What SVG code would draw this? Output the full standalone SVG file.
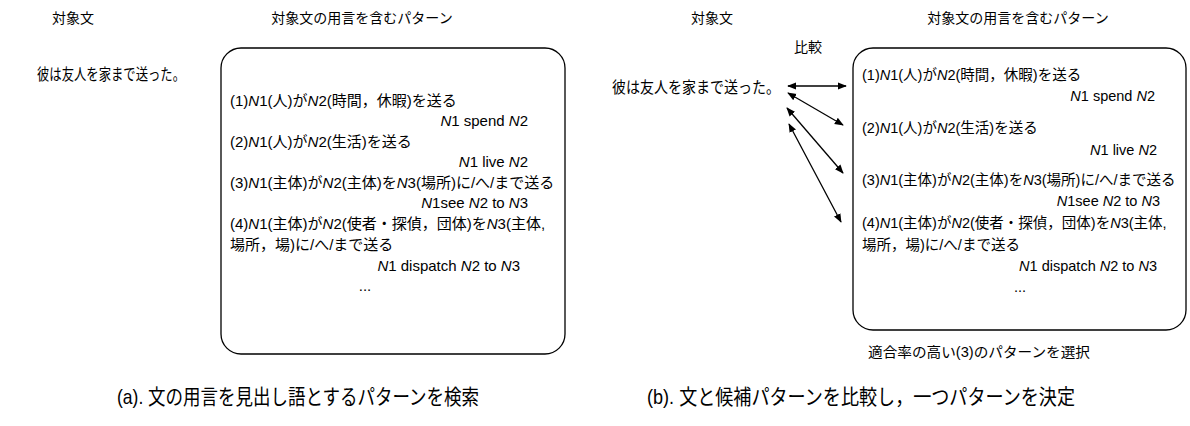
<svg xmlns="http://www.w3.org/2000/svg" width="1190" height="426" viewBox="0 0 1190 426">
<style>
text{font-family:"Liberation Sans","Noto Sans CJK JP",sans-serif;fill:#000}
.t{font-size:14px}
.s{font-size:15.5px}
.b{font-size:15px}
.r{font-size:14.5px}
.cap{font-size:21px}
.i{font-style:italic}
.box{fill:#fff;stroke:#000;stroke-width:1.3}
.ar{stroke:#000;stroke-width:1.3;fill:none;marker-start:url(#h);marker-end:url(#h)}
</style>
<defs>
<marker id="h" viewBox="0 0 10 10" refX="9" refY="5" markerWidth="9" markerHeight="9" orient="auto-start-reverse" markerUnits="userSpaceOnUse"><path d="M0,1 L10,5 L0,9 z" fill="#000"/></marker>
</defs>
<rect width="1190" height="426" fill="#fff"/>
<g id="panel-a">
<g id="a-title1"><text class="t" x="73" y="23" text-anchor="middle">対象文</text></g>
<g id="a-title2"><text class="t" x="362" y="23" text-anchor="middle">対象文の用言を含むパターン</text></g>
<g id="a-sentence"><text class="s" x="37" y="80" textLength="148" lengthAdjust="spacingAndGlyphs">彼は友人を家まで送った。</text></g>
<g id="a-box">
<rect class="box" x="221" y="48" width="344" height="306" rx="20"/>
<text class="b" x="230" y="106">(1)<tspan class="i">N</tspan>1(人)が<tspan class="i">N</tspan>2(時間，休暇)を送る</text>
<text class="b" x="528" y="126" text-anchor="end"><tspan class="i">N</tspan>1 spend <tspan class="i">N</tspan>2</text>
<text class="b" x="230" y="147">(2)<tspan class="i">N</tspan>1(人)が<tspan class="i">N</tspan>2(生活)を送る</text>
<text class="b" x="528" y="167" text-anchor="end"><tspan class="i">N</tspan>1 live <tspan class="i">N</tspan>2</text>
<text class="b" x="230" y="188">(3)<tspan class="i">N</tspan>1(主体)が<tspan class="i">N</tspan>2(主体)を<tspan class="i">N</tspan>3(場所)に/へ/まで送る</text>
<text class="b" x="528" y="208" text-anchor="end"><tspan class="i">N</tspan>1see <tspan class="i">N</tspan>2 to <tspan class="i">N</tspan>3</text>
<text class="b" x="230" y="229">(4)<tspan class="i">N</tspan>1(主体)が<tspan class="i">N</tspan>2(使者・探偵，団体)を<tspan class="i">N</tspan>3(主体,</text>
<text class="b" x="230" y="250">場所，場)に/へ/まで送る</text>
<text class="b" x="520" y="271" text-anchor="end"><tspan class="i">N</tspan>1 dispatch <tspan class="i">N</tspan>2 to <tspan class="i">N</tspan>3</text>
<text class="b" x="365" y="291" text-anchor="middle">...</text>
</g>
<g id="a-caption"><text class="cap" x="117" y="404" textLength="362" lengthAdjust="spacingAndGlyphs">(a). 文の用言を見出し語とするパターンを検索</text></g>
</g>
<g id="panel-b">
<g id="b-title1"><text class="t" x="712" y="23" text-anchor="middle">対象文</text></g>
<g id="b-title2"><text class="t" x="1018" y="23" text-anchor="middle">対象文の用言を含むパターン</text></g>
<g id="b-compare"><text class="t" x="808" y="52" text-anchor="middle">比較</text></g>
<g id="b-sentence"><text class="s" x="612" y="93" textLength="168" lengthAdjust="spacingAndGlyphs">彼は友人を家まで送った。</text></g>
<g id="b-box">
<rect class="box" x="853" y="48" width="333" height="282" rx="20"/>
<text class="r" x="862" y="80">(1)<tspan class="i">N</tspan>1(人)が<tspan class="i">N</tspan>2(時間，休暇)を送る</text>
<text class="r" x="1155" y="101" text-anchor="end"><tspan class="i">N</tspan>1 spend <tspan class="i">N</tspan>2</text>
<text class="r" x="862" y="133">(2)<tspan class="i">N</tspan>1(人)が<tspan class="i">N</tspan>2(生活)を送る</text>
<text class="r" x="1157" y="155" text-anchor="end"><tspan class="i">N</tspan>1 live <tspan class="i">N</tspan>2</text>
<text class="r" x="862" y="185">(3)<tspan class="i">N</tspan>1(主体)が<tspan class="i">N</tspan>2(主体)を<tspan class="i">N</tspan>3(場所)に/へ/まで送る</text>
<text class="r" x="1160" y="206" text-anchor="end"><tspan class="i">N</tspan>1see <tspan class="i">N</tspan>2 to <tspan class="i">N</tspan>3</text>
<text class="r" x="862" y="228">(4)<tspan class="i">N</tspan>1(主体)が<tspan class="i">N</tspan>2(使者・探偵，団体)を<tspan class="i">N</tspan>3(主体,</text>
<text class="r" x="862" y="250">場所，場)に/へ/まで送る</text>
<text class="r" x="1157" y="271" text-anchor="end"><tspan class="i">N</tspan>1 dispatch <tspan class="i">N</tspan>2 to <tspan class="i">N</tspan>3</text>
<text class="r" x="1020" y="292" text-anchor="middle">...</text>
</g>
<g id="b-note"><text class="t" x="868" y="357" textLength="222" lengthAdjust="spacingAndGlyphs">適合率の高い(3)のパターンを選択</text></g>
<g id="b-caption"><text class="cap" x="647" y="404" textLength="428" lengthAdjust="spacingAndGlyphs">(b). 文と候補パターンを比較し，一つパターンを決定</text></g>
</g>
<g id="connectors">
<line class="ar" x1="788" y1="86" x2="846" y2="86"/>
<line class="ar" x1="788" y1="93" x2="843" y2="125"/>
<line class="ar" x1="787" y1="108" x2="843" y2="173"/>
<line class="ar" x1="789" y1="124" x2="841" y2="222"/>
</g>
</svg>
